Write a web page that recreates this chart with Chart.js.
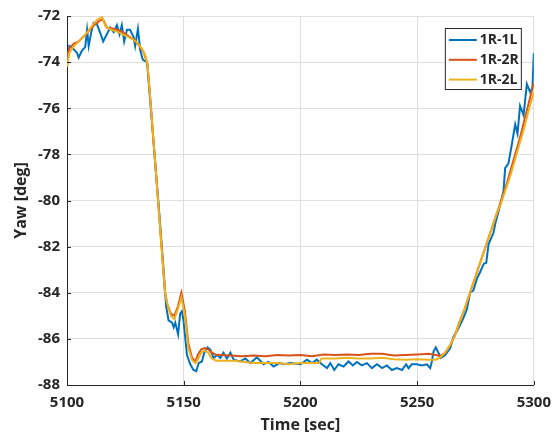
<!DOCTYPE html>
<html>
<head>
<meta charset="utf-8">
<script src="https://cdn.jsdelivr.net/npm/chart.js@4"></script>
<style>
  html, body { margin: 0; padding: 0; background: #fff; }
  #wrap { width: 560px; height: 436px; }
</style>
</head>
<body>
<div id="wrap"><canvas id="yawChart" width="560" height="436"></canvas></div>
<script>
// yaw vs time, three sensor pairs

const xTicks = [5100, 5150, 5200, 5250, 5300];
const yTicks = [-88, -86, -84, -82, -80, -78, -76, -74, -72];

const t1L = [5100, 5101, 5102.5, 5104.3, 5105, 5106.4, 5107.8, 5108.6, 5109.3, 5110.4, 5111.4, 5112.8, 5114.3, 5115.5, 5117, 5118.5, 5120, 5121.4, 5122.5, 5123.5, 5124.5, 5125.7, 5127, 5128.5, 5129.2, 5130.4, 5131.4, 5132.5, 5134.3, 5135.5, 5137.5, 5139.5, 5141, 5142.5, 5143.5, 5145, 5145.7, 5146.4, 5147.6, 5148.5, 5149.2, 5149.9, 5151.4, 5152.8, 5154.2, 5155.4, 5156.4, 5157.8, 5158.8, 5160.2, 5161.4, 5162.8, 5164.3, 5165.7, 5167, 5168.5, 5170, 5171.4, 5174.2, 5176.4, 5178.5, 5181.4, 5184.2, 5186.3, 5188.5, 5191, 5193, 5195.7, 5200, 5202.8, 5205, 5207, 5209.2, 5211.4, 5212.8, 5214.5, 5216.3, 5218.5, 5220.6, 5222.5, 5224.2, 5226.3, 5228.5, 5230.6, 5232.8, 5235, 5237, 5239.2, 5241.3, 5243.5, 5245.3, 5246.3, 5247.7, 5249.9, 5252, 5254.2, 5255.6, 5256.3, 5257, 5258, 5259.1, 5260.2, 5262, 5264.2, 5265.6, 5267, 5268.4, 5269.8, 5271.3, 5272.7, 5274.1, 5275.6, 5277, 5278.5, 5279.6, 5280.6, 5282.7, 5283.5, 5285.6, 5287, 5287.7, 5289.1, 5290.6, 5292, 5293, 5294.1, 5295.6, 5297, 5298.4, 5299.4, 5300];
const y1L = [-74.2, -73.3, -73.4, -73.6, -73.8, -73.5, -73.35, -72.6, -73.3, -72.7, -72.3, -72.35, -72.75, -73.1, -72.8, -72.5, -72.7, -72.4, -72.8, -72.4, -73.1, -72.6, -72.6, -72.9, -73.3, -72.55, -73.5, -73.9, -74.0, -75.5, -78.0, -80.5, -82.5, -84.6, -85.2, -85.3, -85.5, -85.3, -85.8, -84.9, -84.8, -85.2, -86.7, -87.1, -87.35, -87.4, -87.05, -86.98, -86.6, -86.37, -86.47, -86.83, -86.7, -86.83, -86.6, -86.85, -86.6, -86.9, -86.98, -86.85, -87.05, -86.8, -87.1, -87.0, -87.2, -87.05, -87.1, -87.05, -87.1, -86.9, -87.05, -86.9, -87.1, -87.27, -87.05, -87.35, -87.1, -87.2, -86.98, -87.15, -87.0, -87.15, -87.05, -87.27, -87.1, -87.27, -87.15, -87.35, -87.27, -87.35, -87.1, -87.27, -87.1, -87.1, -87.15, -87.1, -87.27, -86.98, -86.55, -86.37, -86.6, -86.83, -86.7, -86.4, -85.9, -85.67, -85.4, -85.1, -84.73, -84.0, -83.9, -83.4, -83.1, -82.75, -82.7, -81.9, -81.4, -81.0, -80.2, -79.6, -78.6, -78.4, -77.55, -76.7, -77.1, -75.9, -76.3, -74.95, -75.3, -75.1, -73.6];

const t2R = [5100, 5101, 5103, 5105, 5108, 5111, 5114, 5115.5, 5117, 5120, 5123, 5126, 5129, 5131, 5133, 5134.5, 5136, 5137.5, 5139, 5140.5, 5142, 5143, 5144.5, 5146, 5147.5, 5149, 5150.5, 5152, 5153.5, 5155, 5156, 5157.5, 5159, 5160.5, 5162, 5164, 5166, 5170, 5175, 5180, 5185, 5190, 5195, 5200, 5205, 5210, 5215, 5220, 5225, 5230, 5235, 5240, 5245, 5250, 5255, 5258, 5260, 5262, 5264, 5266, 5268, 5270, 5272, 5274, 5276, 5278, 5280, 5282, 5284, 5286, 5288, 5290, 5292, 5294, 5296, 5298, 5300];
const y2R = [-73.8, -73.4, -73.2, -73.1, -72.8, -72.45, -72.2, -72.15, -72.5, -72.55, -72.65, -72.85, -73.05, -73.3, -73.6, -74.1, -76.0, -78.0, -80.0, -82.0, -84.0, -84.5, -84.9, -85.0, -84.6, -84.0, -84.8, -86.2, -86.8, -87.0, -86.7, -86.45, -86.4, -86.45, -86.6, -86.7, -86.7, -86.72, -86.75, -86.72, -86.75, -86.7, -86.72, -86.7, -86.75, -86.68, -86.7, -86.68, -86.7, -86.65, -86.65, -86.72, -86.7, -86.68, -86.65, -86.7, -86.75, -86.6, -86.3, -85.9, -85.3, -84.8, -84.2, -83.6, -83.0, -82.4, -81.8, -81.2, -80.6, -80.0, -79.4, -78.7, -78.0, -77.3, -76.5, -75.7, -74.9];

const t2L = [5100, 5101, 5103, 5105, 5108, 5111, 5113, 5115, 5116.5, 5119, 5122, 5125, 5128, 5130, 5132, 5133.5, 5134.5, 5136, 5137.5, 5139, 5140.5, 5142, 5143, 5144.5, 5146, 5147.5, 5149, 5150.5, 5152, 5153.5, 5155, 5156, 5157.5, 5159, 5160.5, 5162, 5164, 5168, 5172, 5176, 5180, 5185, 5190, 5195, 5200, 5205, 5208, 5209, 5215, 5220, 5225, 5230, 5235, 5240, 5245, 5250, 5255, 5258, 5260, 5262, 5264, 5266, 5268, 5270, 5272, 5274, 5276, 5278, 5280, 5282, 5284, 5286, 5288, 5290, 5292, 5294, 5296, 5298, 5300];
const y2L = [-74.2, -73.6, -73.3, -73.1, -72.8, -72.4, -72.15, -72.05, -72.45, -72.6, -72.7, -72.85, -73.0, -73.15, -73.4, -73.7, -74.1, -76.0, -78.0, -80.0, -82.0, -84.0, -84.5, -85.0, -85.15, -84.7, -84.2, -85.0, -86.4, -86.9, -87.05, -86.9, -86.6, -86.5, -86.6, -86.85, -86.95, -86.95, -86.95, -87.0, -87.05, -87.05, -87.05, -87.1, -87.05, -87.05, -87.05, -86.85, -86.85, -86.82, -86.85, -86.85, -86.82, -86.88, -86.9, -86.88, -86.9, -86.9, -86.8, -86.6, -86.3, -85.9, -85.35, -84.8, -84.2, -83.6, -83.0, -82.4, -81.8, -81.2, -80.6, -80.1, -79.5, -78.9, -78.2, -77.5, -76.8, -76.0, -75.3];

const seriesNames = ["1R-1L", "1R-2R", "1R-2L"];
const seriesColors = ["#0072BD", "#D95319", "#EDB120"];

const toPoints = (ts, vs) => ts.map((t, i) => ({ x: t, y: vs[i] }));

const axisColor = "#262626";
const gridColor = "#dedede";
const tickFont = { family: "'Open Sans', sans-serif", size: 15, weight: "bold" };
const titleFont = { family: "'Open Sans', sans-serif", size: 16, weight: "bold" };

// inward ticks + boxed legend, drawn on top of the lines
const matlabBits = {
  id: "matlabBits",
  afterDatasetsDraw(chart) {
    const { ctx, chartArea: a, scales: { x, y } } = chart;
    ctx.save();
    ctx.strokeStyle = axisColor;
    ctx.lineWidth = 1;
    ctx.beginPath();
    xTicks.forEach(v => {
      const px = Math.round(x.getPixelForValue(v)) + 0.5;
      ctx.moveTo(px, a.bottom);
      ctx.lineTo(px, a.bottom - 4);
    });
    yTicks.forEach(v => {
      const py = Math.round(y.getPixelForValue(v)) + 0.5;
      ctx.moveTo(a.left, py);
      ctx.lineTo(a.left + 4, py);
    });
    ctx.stroke();

    const bx = a.right - 89, by = a.top + 12, bw = 76, bh = 61;
    ctx.fillStyle = "#fff";
    ctx.fillRect(bx, by, bw, bh);
    ctx.strokeStyle = axisColor;
    ctx.strokeRect(bx + 0.5, by + 0.5, bw, bh);
    ctx.font = "bold 14px 'Open Sans', sans-serif";
    ctx.textBaseline = "middle";
    ctx.textAlign = "left";
    seriesNames.forEach((name, i) => {
      const ly = by + 12 + i * 19.8;
      ctx.strokeStyle = seriesColors[i];
      ctx.lineWidth = 2;
      ctx.beginPath();
      ctx.moveTo(bx + 4, ly);
      ctx.lineTo(bx + 32, ly);
      ctx.stroke();
      ctx.fillStyle = axisColor;
      ctx.fillText(name, bx + 35, ly);
    });
    ctx.restore();
  }
};

const series = [toPoints(t1L, y1L), toPoints(t2R, y2R), toPoints(t2L, y2L)];

new Chart(document.getElementById("yawChart"), {
  type: "line",
  data: {
    datasets: series.map((pts, i) => ({
      label: seriesNames[i],
      data: pts,
      borderColor: seriesColors[i],
      borderWidth: 2,
      pointRadius: 0,
      tension: 0,
      order: 2 - i
    }))
  },
  options: {
    responsive: false,
    animation: false,
    layout: { padding: { top: 15, right: 26, left: 0, bottom: 0 } },
    plugins: { legend: { display: false }, tooltip: { enabled: false } },
    scales: {
      x: {
        type: "linear",
        min: 5100,
        max: 5300,
        afterBuildTicks: s => { s.ticks = xTicks.map(v => ({ value: v })); },
        afterFit: s => { s.height = 51; },
        ticks: { font: tickFont, color: axisColor, padding: 9, maxRotation: 0, callback: v => String(v) },
        grid: { color: gridColor, drawTicks: false },
        border: { color: axisColor, width: 1 },
        title: { display: true, text: "Time [sec]", font: titleFont, color: axisColor, padding: { top: 0, bottom: 1 } }
      },
      y: {
        min: -88,
        max: -72,
        afterBuildTicks: s => { s.ticks = yTicks.map(v => ({ value: v })); },
        afterFit: s => { s.width = 67; },
        ticks: { font: tickFont, color: axisColor, padding: 7, callback: v => String(v) },
        grid: { color: gridColor, drawTicks: false },
        border: { color: axisColor, width: 1 },
        title: { display: true, text: "Yaw [deg]", font: titleFont, color: axisColor, padding: { top: 12, bottom: 0 } }
      }
    }
  },
  plugins: [matlabBits]
});
</script>
</body>
</html>
